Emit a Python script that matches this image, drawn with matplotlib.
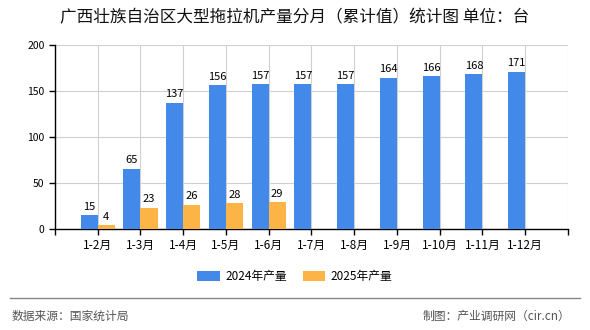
import matplotlib.pyplot as plt
import numpy as np

plt.rcParams['font.family'] = ['Noto Sans CJK SC', 'DejaVu Sans']

months = ['1-2月', '1-3月', '1-4月', '1-5月', '1-6月', '1-7月', '1-8月',
          '1-9月', '1-10月', '1-11月', '1-12月']
prod_2024 = [15, 65, 137, 156, 157, 157, 157, 164, 166, 168, 171]
prod_2025 = [4, 23, 26, 28, 29]

blue = '#4289ea'
orange = '#fbb445'

fig = plt.figure(figsize=(5.9, 3.3), dpi=100)
ax = fig.add_axes([0.0932, 0.306, 0.8695, 0.558])

x = np.arange(len(months))
w = 0.4
b1 = ax.bar(x - w / 2, prod_2024, width=w, color=blue, label='2024年产量', zorder=3)
x2 = np.arange(len(prod_2025))
b2 = ax.bar(x2 + w / 2, prod_2025, width=w, color=orange, label='2025年产量', zorder=3)

for rect, v in zip(b1, prod_2024):
    ax.text(rect.get_x() + rect.get_width() / 2, v + 4, str(v),
            ha='center', va='bottom', fontsize=8)
for rect, v in zip(b2, prod_2025):
    ax.text(rect.get_x() + rect.get_width() / 2, v + 4, str(v),
            ha='center', va='bottom', fontsize=8)

ax.set_xlim(-1, len(months))
ax.set_ylim(0, 200)
ax.set_yticks([0, 50, 100, 150, 200])
ax.set_xticks(np.arange(-1, len(months) + 1))
ax.set_xticklabels([''] + months + [''])
ax.tick_params(axis='y', labelsize=7.5, length=4, width=1, color='black')
ax.tick_params(axis='x', labelsize=8.5, length=4, width=1, color='black', pad=3)
ax.grid(True, color='#d0d0d0', linewidth=0.8, zorder=0)

for s in ['top', 'right']:
    ax.spines[s].set_visible(False)
ax.spines['left'].set_color('black')
ax.spines['bottom'].set_color('black')
ax.spines['left'].set_linewidth(1)
ax.spines['bottom'].set_linewidth(1)

fig.text(0.5, 0.947, '广西壮族自治区大型拖拉机产量分月（累计值）统计图 单位：台',
         ha='center', va='center', fontsize=12, color='#111111')

fig.legend(handles=[b1, b2], loc='center', bbox_to_anchor=(0.5, 0.163), ncol=2,
           frameon=False, fontsize=8.5, handlelength=1.9, handleheight=0.9,
           columnspacing=1.3, handletextpad=0.5)

fig.add_artist(plt.Line2D([0.017, 0.983], [0.097, 0.097], color='#888888', linewidth=1))
fig.text(0.02, 0.042, '数据来源：国家统计局', ha='left', va='center',
         fontsize=8.5, color='#555555')
fig.text(0.967, 0.042, '制图：产业调研网（cir.cn）', ha='right', va='center',
         fontsize=8.5, color='#555555')

plt.savefig('out.png', dpi=100)
